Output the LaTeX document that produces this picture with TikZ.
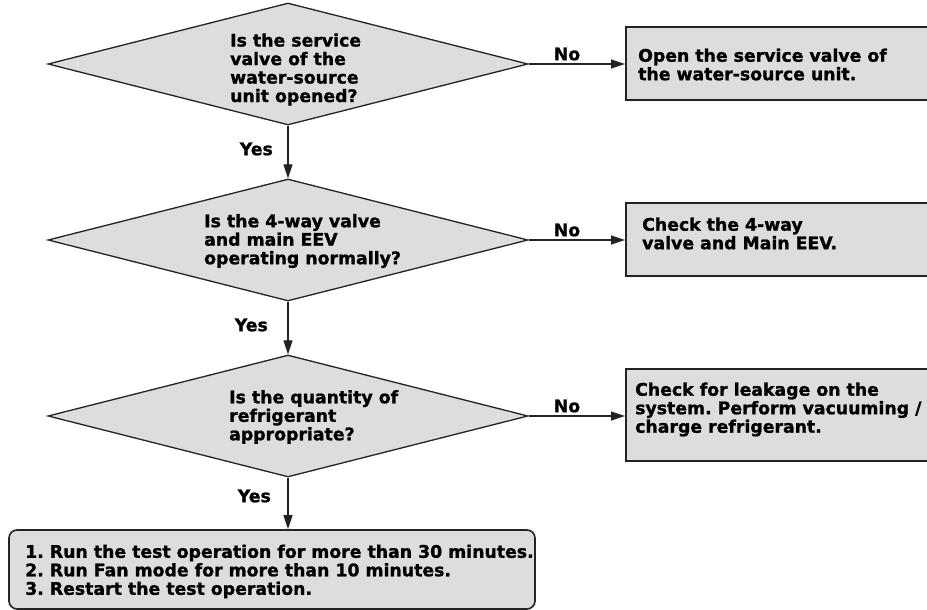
\documentclass[tikz,border=0pt]{standalone}
\usepackage{fontspec}
\setmainfont{DejaVu Sans}[BoldFeatures={FakeBold=1.2}]
\usetikzlibrary{shapes.geometric,arrows.meta}
\definecolor{boxfill}{RGB}{220,221,223}
\definecolor{edge}{RGB}{35,35,35}
\frenchspacing
\begin{document}
\begin{tikzpicture}[x=1pt,y=-1pt,
  txt/.style={font=\fontsize{17.3pt}{18.5pt}\selectfont\bfseries, align=left, inner sep=0pt, text=black},
  dec/.style={diamond, draw=edge, fill=boxfill, line width=1.3pt, minimum width=480pt, minimum height=122pt, inner sep=0pt},
  proc/.style={rectangle, draw=edge, fill=boxfill, line width=1.6pt, anchor=north west, inner sep=0pt, minimum width=340pt},
  finbox/.style={rectangle, rounded corners=8pt, draw=edge, fill=boxfill, line width=1.6pt, inner sep=0pt, minimum width=526pt, minimum height=79pt},
  arr/.style={draw=edge, line width=1.2pt, -{Triangle[length=14pt,width=9pt]}}
]
\useasboundingbox (0,0) rectangle (927,610);

% decisions
\node[dec] (d1) at (288,64) {};
\node[dec] (d2) at (288,240) {};
\node[dec] (d3) at (288,416) {};
\node[txt, anchor=west] (d1t) at (230,69.5) {Is the service\\valve of the\\water-source\\unit opened?};
\node[txt, anchor=west] (d2t) at (204,241) {Is the 4-way valve\\and main EEV\\operating normally?};
\node[txt, anchor=west] (d3t) at (229,417) {Is the quantity of\\refrigerant\\appropriate?};

% action boxes
\node[proc, minimum height=73pt] (b1) at (625,26) {};
\node[proc, minimum height=73pt] (b2) at (625,202) {};
\node[proc, minimum height=92pt] (b3) at (625,368) {};
\node[txt, anchor=west] (b1t) at (638,64.5) {Open the service valve of\\the water-source unit.};
\node[txt, anchor=west] (b2t) at (642,233.5) {Check the 4-way\\valve and Main EEV.};
\node[txt, anchor=west] (b3t) at (635,409.5) {Check for leakage on the\\system. Perform vacuuming /\\charge refrigerant.};

% final box
\node[finbox] (fin) at (272,569.5) {};
\node[txt, anchor=west] (fint) at (25,571.5) {1. Run the test operation for more than 30 minutes.\\2. Run Fan mode for more than 10 minutes.\\3. Restart the test operation.};

% connectors
\draw[arr] (d1.east) -- (d1.east -| b1.west);
\draw[arr] (d2.east) -- (d2.east -| b2.west);
\draw[arr] (d3.east) -- (d3.east -| b3.west);
\draw[arr] (d1.south) -- (d2.north);
\draw[arr] (d2.south) -- (d3.north);
\draw[arr] (d3.south) -- (d3.south |- fin.north);

% labels
\node[txt, anchor=center] (no1) at (567,54) {No};
\node[txt, anchor=center] (no2) at (567,230) {No};
\node[txt, anchor=center] (no3) at (567,406) {No};
\node[txt, anchor=east] (yes1) at (273,149) {Yes};
\node[txt, anchor=east] (yes2) at (268,325) {Yes};
\node[txt, anchor=east] (yes3) at (271,496) {Yes};
\end{tikzpicture}
\end{document}
